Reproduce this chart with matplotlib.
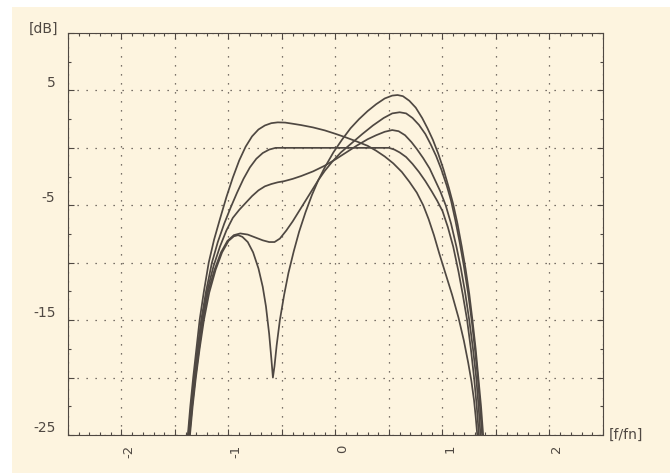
import numpy as np
import matplotlib
matplotlib.use("Agg")
import matplotlib.pyplot as plt
from matplotlib.patches import Rectangle
from matplotlib.transforms import ScaledTranslation

# curves (x in f/fn, y in dB)
c1_x = [-1.36, -1.335, -1.305, -1.27, -1.23, -1.18, -1.12, -1.06, -1.00, -0.95, -0.91, -0.87,
        -0.82, -0.77, -0.72, -0.68, -0.65, -0.62, -0.60, -0.585, -0.57, -0.55, -0.52, -0.48,
        -0.44, -0.39, -0.34, -0.28, -0.22, -0.16, -0.10, -0.02, 0.06, 0.14, 0.22, 0.30, 0.38,
        0.46, 0.53, 0.58, 0.63, 0.69, 0.75, 0.81, 0.86, 0.91, 0.96, 1.01, 1.06, 1.10, 1.14,
        1.18, 1.215, 1.25, 1.28, 1.31, 1.335, 1.36, 1.38]
c1_y = [-25, -22.5, -20, -17.5, -15, -12.6, -10.6, -9.1, -8.1, -7.7, -7.6, -7.75,
        -8.2, -9.1, -10.5, -12.1, -13.8, -16.2, -18.3, -20, -19, -17.2, -15, -12.8,
        -10.9, -9.0, -7.3, -5.6, -4.1, -2.8, -1.7, -0.4, 0.7, 1.7, 2.5, 3.2, 3.8,
        4.3, 4.55, 4.6, 4.5, 4.1, 3.5, 2.6, 1.7, 0.7, -0.5, -1.9, -3.5, -4.9, -6.6,
        -8.6, -10.5, -12.7, -15, -17.5, -20, -22.5, -25]

c2_x = [-1.365, -1.34, -1.31, -1.275, -1.24, -1.19, -1.13, -1.07, -1.01, -0.95, -0.89, -0.82,
        -0.75, -0.68, -0.62, -0.57, -0.52, -0.46, -0.40, -0.34, -0.28, -0.22, -0.16, -0.10,
        -0.03, 0.05, 0.15, 0.25, 0.35, 0.45, 0.53, 0.60, 0.66, 0.72, 0.78, 0.84, 0.89, 0.94,
        0.99, 1.04, 1.08, 1.12, 1.16, 1.20, 1.24, 1.275, 1.305, 1.33, 1.35, 1.37]
c2_y = [-25, -22.5, -20, -17.5, -15, -12.5, -10.6, -9.1, -8.1, -7.6, -7.45, -7.55,
        -7.8, -8.05, -8.2, -8.2, -7.9, -7.2, -6.4, -5.5, -4.6, -3.7, -2.8, -2.0,
        -1.2, -0.4, 0.4, 1.2, 1.95, 2.6, 3.0, 3.1, 3.0, 2.6, 2.0, 1.2, 0.3, -0.7,
        -1.9, -3.3, -4.6, -6.3, -8.2, -10.3, -12.7, -15.2, -17.7, -20, -22.5, -25]

c3_x = [-1.37, -1.345, -1.315, -1.285, -1.25, -1.20, -1.14, -1.08, -1.02, -0.96, -0.90, -0.84,
        -0.78, -0.72, -0.66, -0.60, -0.54, -0.48, -0.40, -0.32, -0.21, -0.10, 0.00, 0.10,
        0.20, 0.30, 0.38, 0.46, 0.53, 0.59, 0.65, 0.71, 0.76, 0.82, 0.88, 0.93, 0.98, 1.03,
        1.08, 1.13, 1.17, 1.21, 1.25, 1.285, 1.315, 1.337, 1.355]
c3_y = [-25, -22.5, -20, -17.5, -15, -12.5, -10.3, -8.6, -7.2, -6.1, -5.4, -4.8,
        -4.2, -3.7, -3.35, -3.15, -3.0, -2.9, -2.7, -2.45, -2.05, -1.55, -1.0, -0.4,
        0.2, 0.75, 1.1, 1.4, 1.55, 1.45, 1.1, 0.5, -0.1, -0.9, -1.8, -2.8, -3.8, -5.0,
        -6.6, -8.6, -10.4, -12.5, -15, -17.5, -20, -22.5, -25]

c4_x = [-1.375, -1.35, -1.32, -1.29, -1.255, -1.21, -1.155, -1.10, -1.04, -0.98, -0.92, -0.86,
        -0.80, -0.74, -0.68, -0.62, -0.56, 0.00, 0.50, 0.55, 0.60, 0.66, 0.72, 0.78, 0.84,
        0.90, 0.95, 1.00, 1.05, 1.10, 1.15, 1.19, 1.23, 1.265, 1.295, 1.32, 1.34]
c4_y = [-25, -22.5, -20, -17.5, -15, -12.5, -10, -8.2, -6.6, -5.2, -3.9, -2.7,
        -1.7, -0.95, -0.45, -0.15, 0, 0, 0, -0.15, -0.4, -0.8, -1.4, -2.1, -2.9,
        -3.8, -4.6, -5.5, -6.9, -8.6, -10.8, -12.8, -15.0, -17.5, -20, -22.5, -25]

c5_x = [-1.38, -1.357, -1.33, -1.30, -1.27, -1.23, -1.185, -1.135, -1.08, -1.02, -0.96, -0.90,
        -0.84, -0.78, -0.72, -0.66, -0.60, -0.54, -0.47, -0.40, -0.32, -0.21, -0.10, 0.00,
        0.10, 0.20, 0.30, 0.38, 0.46, 0.54, 0.62, 0.69, 0.76, 0.82, 0.87, 0.92, 0.97, 1.03,
        1.09, 1.15, 1.20, 1.24, 1.27, 1.295, 1.31, 1.325]
c5_y = [-25, -22.5, -20, -17.5, -15, -12.5, -10, -8.0, -6.2, -4.3, -2.6, -1.1,
        0.1, 1.0, 1.6, 1.95, 2.15, 2.22, 2.2, 2.1, 1.98, 1.78, 1.52, 1.22,
        0.9, 0.55, 0.18, -0.25, -0.75, -1.35, -2.1, -2.95, -3.9, -5.0, -6.2, -7.6, -9.2, -11.0,
        -12.8, -14.8, -16.8, -18.7, -20.3, -22.0, -23.4, -25]

curves = [(c1_x, c1_y), (c2_x, c2_y), (c3_x, c3_y), (c4_x, c4_y), (c5_x, c5_y)]

x_labels = {-2: "-2", -1: "-1", 0: "0", 1: "1", 2: "2"}
y_labels = {5: "5", -5: "-5", -15: "-15", -25: "-25"}

paper = "#fdf4df"
ink = "#4f4842"

fig = plt.figure(figsize=(6.7, 4.73), dpi=100, facecolor="white")
# scanned page, with a thin white edge top and left
fig.patches.append(Rectangle((12 / 670, 0), 1, (473 - 7) / 473, transform=fig.transFigure,
                             facecolor=paper, edgecolor="none", zorder=-10))

ax = fig.add_axes([68 / 670, 38 / 473, 535 / 670, 402 / 473])
ax.set_facecolor(paper)

for cx, cy in curves:
    ax.plot(cx, cy, color=ink, lw=1.25, solid_joinstyle="round")

ax.set_xlim(-2.5, 2.5)
ax.set_ylim(-25, 10)

ax.set_xticks(np.arange(-2.5, 2.51, 0.5))
ax.set_xticks(np.arange(-2.5, 2.51, 0.1), minor=True)
ax.set_yticks(np.arange(-25, 10.1, 5))
ax.set_yticks(np.arange(-25, 10.1, 2.5), minor=True)

ax.set_xticklabels([x_labels.get(int(round(v)), "") if abs(v - round(v)) < 1e-6 else ""
                    for v in ax.get_xticks()], rotation=90, fontsize=9.5, color=ink)
ax.set_yticklabels([y_labels.get(int(round(v)), "") for v in ax.get_yticks()],
                   fontsize=10, color=ink)

ax.tick_params(which="both", direction="in", top=True, right=True, color=ink, width=0.8)
ax.tick_params(which="major", length=4)
ax.tick_params(which="minor", length=2.5)
ax.tick_params(axis="x", pad=7)
ax.tick_params(axis="y", pad=9)

for lab in ax.get_xticklabels():
    lab.set_transform(lab.get_transform() + ScaledTranslation(0.075, 0, fig.dpi_scale_trans))
for lab in ax.get_yticklabels():
    lab.set_transform(lab.get_transform() + ScaledTranslation(0, 0.09, fig.dpi_scale_trans))

ax.grid(True, which="major", color=ink, lw=0.9, linestyle=(0, (1, 6.2)))

for s in ax.spines.values():
    s.set_color(ink)
    s.set_linewidth(0.8)

fig.text(43 / 670, 1 - 29 / 473, "[dB]", ha="center", va="center", fontsize=10, color=ink)
fig.text(609 / 670, 1 - 435 / 473, "[f/fn]", ha="left", va="center", fontsize=10, color=ink)

fig.savefig("out.png", dpi=100, facecolor=fig.get_facecolor())
